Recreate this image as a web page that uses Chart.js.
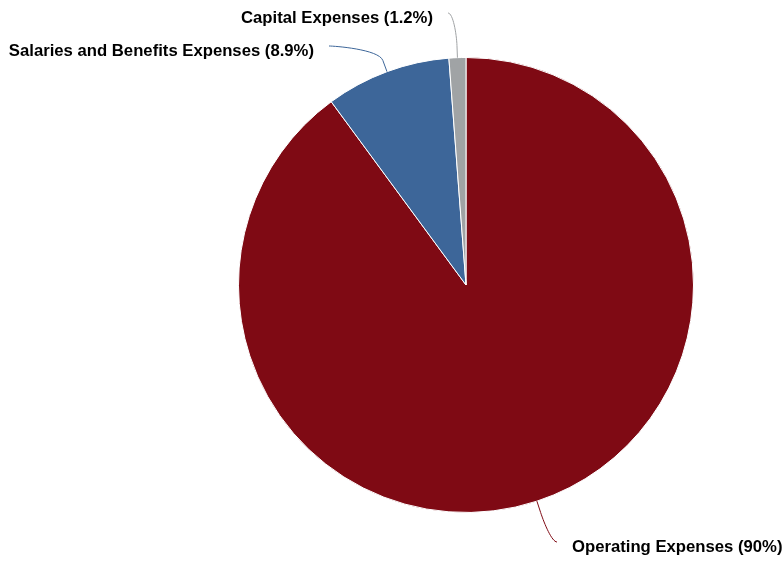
<!DOCTYPE html>
<html>
<head>
<meta charset="utf-8">
<script src="https://cdn.jsdelivr.net/npm/chart.js@4.4.0/dist/chart.umd.min.js"></script>
<style>
  html, body { margin: 0; padding: 0; background: #ffffff; }
  #wrap { width: 783px; height: 561px; position: relative; }
</style>
</head>
<body>
<div id="wrap"><canvas id="c" width="783" height="561"></canvas></div>
<script>
const categories = ['Operating Expenses', 'Salaries and Benefits Expenses', 'Capital Expenses'];
const values = [90, 8.9, 1.2];
const labelTexts = ['Operating Expenses (90%)', 'Salaries and Benefits Expenses (8.9%)', 'Capital Expenses (1.2%)'];
const colors = ['#7f0a14', '#3d6699', '#a0a3a5'];

// label layout (connector end offsets from pie centre)
const LABEL_LAYOUT = [
  { dx: 91, dy: 257, side: 'left' },
  { dx: -137, dy: -239, side: 'right' },
  { dx: -18, dy: -272, side: 'right' }
];

const labelPlugin = {
  id: 'pieLabels',
  afterDatasetsDraw(chart) {
    const ctx = chart.ctx;
    const meta = chart.getDatasetMeta(0);
    ctx.save();
    meta.data.forEach((arc, i) => {
      const p = arc.getProps(['x', 'y', 'startAngle', 'endAngle', 'outerRadius'], true);
      const mid = (p.startAngle + p.endAngle) / 2;
      const cos = Math.cos(mid), sin = Math.sin(mid);
      const touch = { x: p.x + p.outerRadius * cos, y: p.y + p.outerRadius * sin };
      const brk = { x: p.x + (p.outerRadius + 12) * cos, y: p.y + (p.outerRadius + 12) * sin };
      const L = LABEL_LAYOUT[i];
      const end = { x: p.x + L.dx, y: p.y + L.dy };
      ctx.beginPath();
      ctx.moveTo(end.x, end.y);
      ctx.bezierCurveTo(end.x + (L.side === 'left' ? -5 : 5), end.y,
        2 * brk.x - touch.x, 2 * brk.y - touch.y, brk.x, brk.y);
      ctx.lineTo(touch.x, touch.y);
      ctx.strokeStyle = colors[i];
      ctx.lineWidth = 1;
      ctx.stroke();
      ctx.font = 'bold 16.7px "Liberation Sans", Arial, sans-serif';
      ctx.fillStyle = '#000000';
      ctx.textBaseline = 'middle';
      ctx.textAlign = L.side;
      const tx = end.x + (L.side === 'left' ? 15 : -15);
      ctx.fillText(labelTexts[i], tx, end.y + 5);
    });
    ctx.restore();
  }
};

new Chart(document.getElementById('c'), {
  type: 'pie',
  data: {
    labels: categories,
    datasets: [{
      data: values,
      backgroundColor: colors,
      borderColor: '#ffffff',
      borderWidth: 1
    }]
  },
  options: {
    responsive: false,
    animation: false,
    layout: { padding: { left: 198, right: 49, top: 57, bottom: 48 } },
    plugins: { legend: { display: false }, tooltip: { enabled: false } }
  },
  plugins: [labelPlugin]
});
</script>
</body>
</html>
